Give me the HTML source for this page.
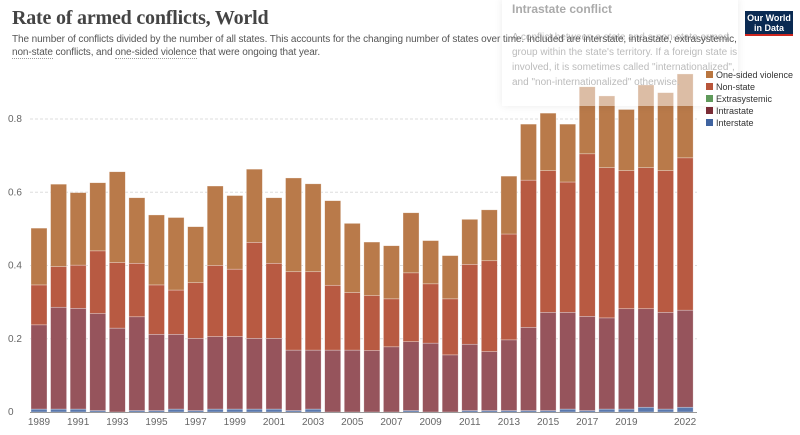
<!DOCTYPE html>
<html><head><meta charset="utf-8"><style>
body{margin:0;width:800px;height:435px;background:#fff;font-family:"Liberation Sans",sans-serif;overflow:hidden;position:relative}
#title{position:absolute;left:12px;top:7px;font-family:"Liberation Serif",serif;font-size:20px;color:#444;font-weight:bold;letter-spacing:-0.2px}
#sub{position:absolute;left:12px;top:34px;font-size:10px;color:#555;line-height:12.5px;white-space:nowrap;z-index:3;letter-spacing:-0.1px}
#sub u{text-decoration:none;border-bottom:1px dotted #999}
#logo{position:absolute;left:745px;top:11px;width:48px;height:25px;background:#0a2a52;border-bottom:2px solid #ce261e;color:#fff;font-size:9px;line-height:10px;text-align:center;padding-top:2px;box-sizing:border-box;font-weight:bold}
#tip{position:absolute;left:502px;top:-2px;width:236px;height:108px;background:rgba(255,255,255,0.5);box-shadow:0 0 8px rgba(0,0,0,0.08);color:#bbb;font-size:10px;line-height:15px;padding:4px 10px;box-sizing:border-box;z-index:2;white-space:nowrap}
#tip b{display:block;font-size:12px;color:#aaa;margin-bottom:13px}
#legend{position:absolute;left:0;top:0;z-index:4}
</style></head><body>
<div id="title">Rate of armed conflicts, World</div>
<div id="sub">The number of conflicts divided by the number of all states. This accounts for the changing number of states over time. Included are interstate, intrastate, extrasystemic,<br><u>non-state</u> conflicts, and <u>one-sided violence</u> that were ongoing that year.</div>
<div id="logo">Our World<br>in Data</div>
<svg id="chart" width="800" height="435" style="position:absolute;left:0;top:0"></svg>
<div id="tip"><b>Intrastate conflict</b>A conflict between a state and a non-state armed<br>group within the state's territory. If a foreign state is<br>involved, it is sometimes called "internationalized",<br>and "non-internationalized" otherwise.</div>
<svg id="legend" width="800" height="140"></svg>
<script>
const years=[1989,1990,1991,1992,1993,1994,1995,1996,1997,1998,1999,2000,2001,2002,2003,2004,2005,2006,2007,2008,2009,2010,2011,2012,2013,2014,2015,2016,2017,2018,2019,2020,2021,2022];
const interstate=[.008,.008,.008,.004,0,.004,.004,.008,.004,.008,.008,.008,.008,.004,.008,0,0,0,0,.004,0,0,.004,.004,.004,.004,.004,.008,.004,.008,.008,.013,.008,.013];
const extrasystemic=[0,0,0,0,0,0,0,0,0,0,0,0,0,0,0,0,0,0,0,0,0,0,0,0,0,0,0,0,0,0,0,0,0,0];
const intrastate=[.230,.278,.275,.265,.229,.256,.208,.204,.197,.198,.198,.193,.193,.165,.161,.169,.169,.168,.178,.188,.188,.156,.181,.161,.193,.227,.268,.264,.257,.249,.274,.269,.264,.265];
const nonstate=[.109,.111,.118,.171,.179,.146,.135,.121,.152,.194,.184,.262,.205,.214,.214,.177,.157,.150,.131,.188,.162,.153,.218,.248,.289,.402,.387,.356,.444,.410,.377,.385,.387,.416];
const onesided=[.155,.225,.198,.186,.248,.179,.191,.198,.153,.217,.201,.200,.179,.256,.240,.231,.189,.146,.145,.164,.118,.118,.123,.139,.158,.153,.157,.158,.183,.196,.167,.226,.213,.229];
const yTicks=[0,0.2,0.4,0.6,0.8];
const legendNames=["One-sided violence","Non-state","Extrasystemic","Intrastate","Interstate"];
const legendColors=["#b9763f","#b8553a","#5f9a5b","#7a2c36","#3f63a0"];
const NS="http://www.w3.org/2000/svg";
const svg=document.getElementById('chart');
const leg=document.getElementById('legend');
const y0=412,pxPer=366.25,xl=30,xr=697;
const Y=v=>y0-v*pxPer;
const X=i=>31+i*19.58;
function mk(t,a,p){const e=document.createElementNS(NS,t);for(const k in a)e.setAttribute(k,a[k]);(p||svg).appendChild(e);return e;}
yTicks.forEach(t=>{
 if(t>0){const g=mk('line',{x1:xl,x2:xr,y1:Y(t),y2:Y(t),stroke:'#ddd','stroke-dasharray':'3,2'});
 
 }
 const l=mk('text',{x:8,y:Y(t)+3,'font-size':10,fill:'#666'});l.textContent=t===0?'0':t.toFixed(1);
 
 
});
const series=[[interstate,"#5a78ad"],[extrasystemic,"#6a9a63"],[intrastate,"#96545c"],[nonstate,"#b85a42"],[onesided,"#b97a4a"]];
const segNames=['bar-interstate','bar-extrasystemic','bar-intrastate','bar-nonstate','bar-onesided'];
years.forEach((yr,i)=>{
 let acc=0;
 series.forEach(([arr,c],s)=>{
  const v=arr[i];if(v<=0)return;
  const r=mk('rect',{x:X(i),y:Y(acc+v),width:16,height:v*pxPer,fill:c,stroke:'#fff','stroke-opacity':0.5,'stroke-width':0.6});
  
  
  acc+=v;
 });
 if((i%2===0&&i<years.length-2)||i===years.length-1){
  const t=mk('text',{x:X(i)+8,y:425,'font-size':10,fill:'#666','text-anchor':'middle'});t.textContent=yr;
  
  }
});
const ax=mk('line',{x1:xl,x2:xr,y1:y0+0.5,y2:y0+0.5,stroke:'#999'});


legendNames.forEach((n,k)=>{
 const yy=71+k*12;
 const r=mk('rect',{x:706,y:yy,width:7,height:7,fill:legendColors[k]},leg);
 
 
 const t=mk('text',{x:716,y:yy+7,'font-size':9,fill:'#333'},leg);t.textContent=n;
 
 
});
</script>
</body></html>
